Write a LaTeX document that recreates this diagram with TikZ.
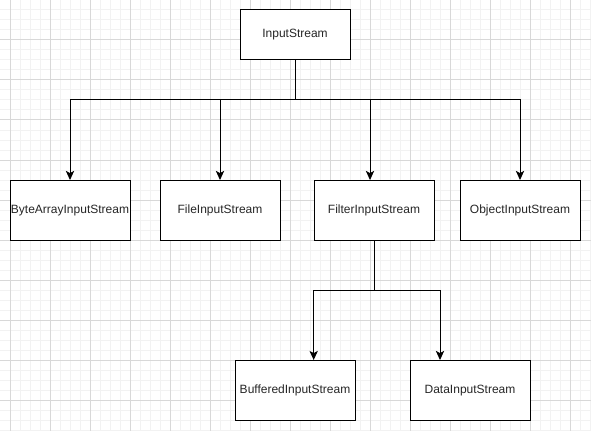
\documentclass[tikz,border=0pt]{standalone}
\usepackage{fontspec}
\setmainfont{Liberation Sans}
\usetikzlibrary{arrows.meta}
\definecolor{gridminor}{HTML}{F2F2F2}
\definecolor{gridmajor}{HTML}{D8D8D8}
\begin{document}
\begin{tikzpicture}[x=0.75pt,y=-0.75pt,
  box/.style={draw=black,line width=0.75pt,fill=white,minimum width=90pt,minimum height=45pt,inner sep=0pt,font=\fontsize{9pt}{11pt}\selectfont,text=black!85},
  conn/.style={draw=black,line width=0.75pt},
  arr/.style={conn,-{Stealth[length=6.8pt,width=6.2pt,inset=1.6pt]}}]
\useasboundingbox (0,0) rectangle (591,431);
\fill[white] (0,0) rectangle (591,431);
\foreach \x in {10,20,...,590} \draw[gridminor,line width=0.75pt] (\x,0) -- (\x,431);
\foreach \y in {10,20,...,430} \draw[gridminor,line width=0.75pt] (0,\y) -- (591,\y);
\foreach \x in {10,50,...,590} \draw[gridmajor,line width=0.75pt] (\x,0) -- (\x,431);
\foreach \y in {40,80,...,430} \draw[gridmajor,line width=0.75pt] (0,\y) -- (591,\y);

\node[box,minimum width=82.5pt,minimum height=37.5pt] (in) at (295,35) {InputStream};
\node[box] (ba) at (70,210.5) {ByteArrayInputStream};
\node[box] (fs) at (220,210.5) {FileInputStream};
\node[box] (fi) at (374,210.5) {FilterInputStream};
\node[box] (ob) at (520,210.5) {ObjectInputStream};
\node[box] (bu) at (295,390.5) {BufferedInputStream};
\node[box] (da) at (470,390.5) {DataInputStream};

\coordinate (j1) at (295,100);
\coordinate (j2) at (374,290);
\draw[conn] (in.south) -- (j1);
\draw[arr] (j1) -| (ba.north);
\draw[arr] (j1) -| (fs.north);
\draw[arr] (j1) -| ([xshift=-3pt]fi.north);
\draw[arr] (j1) -| (ob.north);
\draw[conn] (fi.south) -- (j2);
\draw[arr] (j2) -| ([xshift=14pt]bu.north);
\draw[arr] (j2) -| ([xshift=-22.5pt]da.north);
\end{tikzpicture}
\end{document}
